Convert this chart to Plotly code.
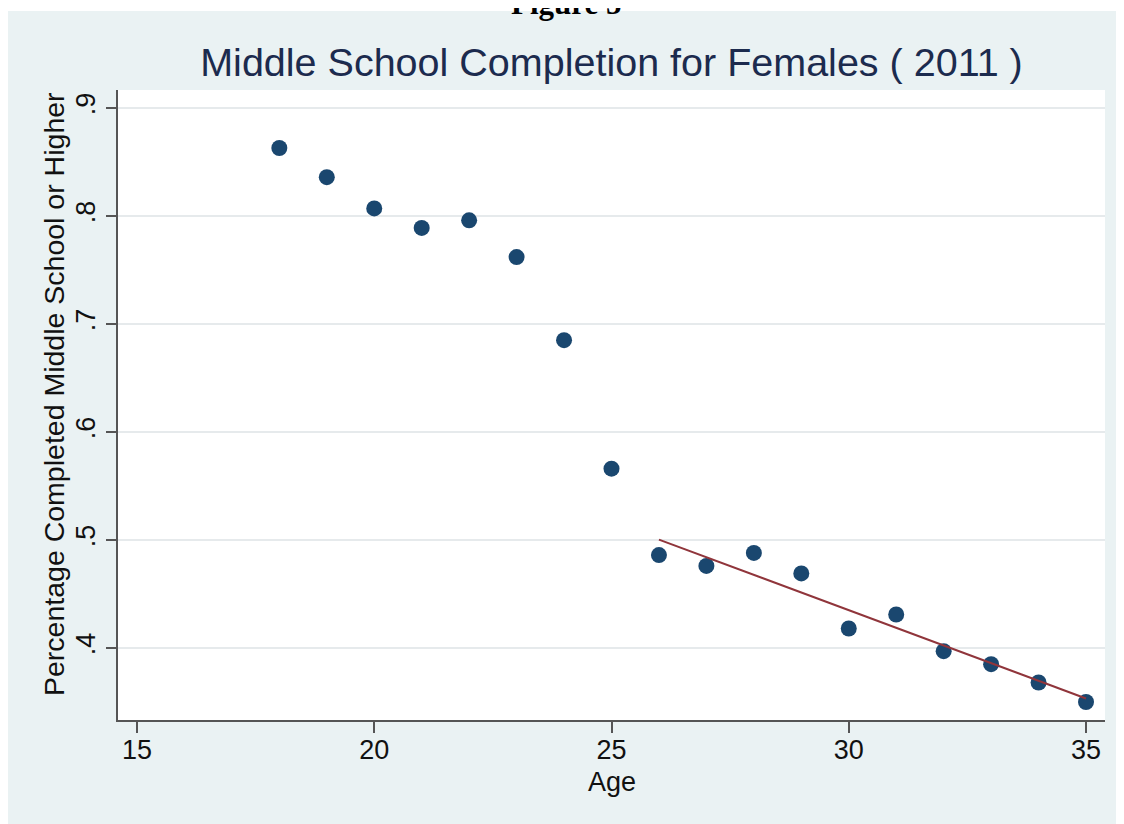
import numpy as np
import plotly.graph_objects as go

# ---- data ----
ages = [18, 19, 20, 21, 22, 23, 24, 25, 26, 27, 28, 29, 30, 31, 32, 33, 34, 35]
completion = [0.863, 0.836, 0.807, 0.789, 0.796, 0.762, 0.685, 0.566, 0.486,
              0.476, 0.488, 0.469, 0.418, 0.431, 0.397, 0.385, 0.368, 0.350]
fit_start_age = 26
x_tickvals = [15, 20, 25, 30, 35]
y_tickvals = [0.4, 0.5, 0.6, 0.7, 0.8, 0.9]
y_ticktext = [".4", ".5", ".6", ".7", ".8", ".9"]
title_text = "Middle School Completion for Females ( 2011 )"
x_title = "Age"
y_title = "Percentage Completed Middle School or Higher"
figure_label = "Figure 5"

# linear fit over ages >= 26
fx = np.array([a for a in ages if a >= fit_start_age], dtype=float)
fy = np.array([v for a, v in zip(ages, completion) if a >= fit_start_age])
slope, intercept = np.polyfit(fx, fy, 1)
fit_x = [fx.min(), fx.max()]
fit_y = [slope * fx.min() + intercept, slope * fx.max() + intercept]

BG = "#eaf2f3"
FONT = "Liberation Sans, Arial, sans-serif"

fig = go.Figure()
fig.add_trace(go.Scatter(
    x=ages, y=completion, mode="markers",
    marker=dict(color="#1a476f", size=16, line=dict(width=0)),
    showlegend=False, hoverinfo="x+y"))
fig.add_trace(go.Scatter(
    x=fit_x, y=fit_y, mode="lines",
    line=dict(color="#90353b", width=2),
    showlegend=False, hoverinfo="skip"))

# figure is placed by the page at (8, 8); coordinates below are figure px
W, H = 1116, 816
L, R, T, B = 110, 1097, 82, 712
pw, ph = R - L, B - T


def px_x(p):
    return (p - L) / pw


def px_y(p):
    return (B - p) / ph


fig.update_layout(
    width=W, height=H,
    margin=dict(l=L, r=W - R, t=T, b=H - B, pad=0),
    paper_bgcolor=BG,
    plot_bgcolor="white",
    font=dict(family=FONT, size=27, color="#111111"),
    title=dict(text=title_text, x=0.5, xref="paper", xanchor="center",
               y=1 - 54 / H, yref="container", yanchor="middle",
               font=dict(family=FONT, size=39.5, color="#1c2b4e")),
    xaxis=dict(range=[14.6, 35.4], tickvals=x_tickvals,
               showgrid=False, zeroline=False,
               showline=True, linecolor="#555555", linewidth=1.5,
               ticks="outside", ticklen=11, tickwidth=1.5, tickcolor="#555555",
               ticklabelstandoff=-6,
               tickfont=dict(size=27, color="#111111")),
    yaxis=dict(range=[0.3333, 0.9167], tickvals=y_tickvals, ticktext=y_ticktext,
               tickangle=-90,
               showgrid=True, gridcolor="#e6eaec", gridwidth=1.5, zeroline=False,
               showline=True, linecolor="#555555", linewidth=1.5,
               ticks="outside", ticklen=10, tickwidth=1.5, tickcolor="#555555",
               tickfont=dict(size=27, color="#111111")),
    shapes=[
        dict(type="rect", xref="paper", yref="paper", layer="above",
             x0=px_x(-2), x1=px_x(W + 2), y0=px_y(3), y1=px_y(-2),
             fillcolor="white", line=dict(width=0)),
    ],
    annotations=[
        dict(text=y_title, xref="paper", yref="paper", textangle=-90,
             x=px_x(46), y=px_y(386), xanchor="center", yanchor="middle",
             showarrow=False, font=dict(family=FONT, size=28.5, color="#111111")),
        dict(text=x_title, xref="paper", yref="paper",
             x=px_x(604), y=px_y(774), xanchor="center", yanchor="middle",
             showarrow=False, font=dict(family=FONT, size=27, color="#111111")),
        dict(text="<b>%s</b>" % figure_label, xref="paper", yref="paper",
             x=px_x(558), y=px_y(15), xanchor="center", yanchor="bottom",
             showarrow=False,
             font=dict(family="Liberation Serif, Times New Roman, serif", size=31, color="black")),
    ],
)

fig.write_html("out.html")
